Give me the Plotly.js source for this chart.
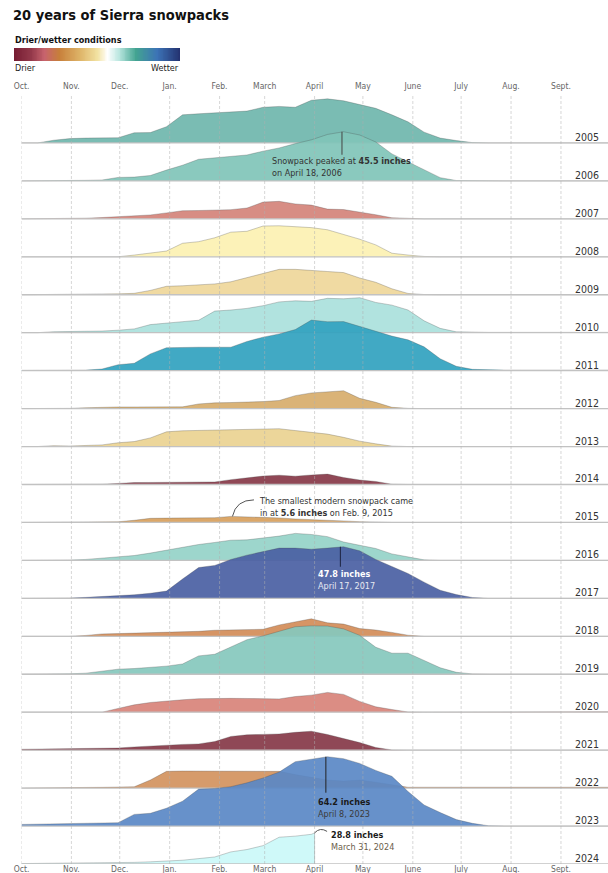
<!DOCTYPE html>
<html><head><meta charset="utf-8">
<script src="https://cdn.plot.ly/plotly-3.0.1.min.js"></script>
<style>html,body{margin:0;padding:0;background:#fff}#chart{width:608px;height:873px}</style>
</head><body><div id="chart"></div>
<script>
// ---------- DATA ----------
const years = [2005,2006,2007,2008,2009,2010,2011,2012,2013,2014,2015,2016,2017,2018,2019,2020,2021,2022,2023,2024];
// days since Oct. 1 (water year)
const days = [0,10,20,30,40,50,60,70,80,90,100,110,120,130,140,150,160,170,180,190,200,210,220,230,240,250,260,270,280,290,300,310,320,330,340,350,360,365];
// snow water equivalent, inches
const snow2005 = [0,0,2.5,4,4.5,4.7,4.8,9.4,9.6,15, 26,27,27.6,28.3,29.5,33,33.8,33,39.5,40.8, 39,35.5,32,26,19.5,10,4.5,2.2,0.3,0, 0,0,0,0,0,0,0,0];
const snow2006 = [0,0,0.3,0.5,0.5,0.8,3.2,3.5,5,10, 14.5,20,21.3,22.5,24,27.5,30.5,34.5,38,43, 45.5,42.5,36,25,17.5,10,3,0.3,0,0, 0,0,0,0,0,0,0,0];
const snow2007 = [0,0,0,0.2,0.6,1.2,1.8,3,3.6,5.5, 7.5,7.7,7.9,8.5,10,15.5,16.2,13.8,12.7,9, 8.6,6.5,3.8,1,0.2,0,0,0,0,0, 0,0,0,0,0,0,0,0];
const snow2008 = [0,0,0,0,0,0,0,1.6,3.5,5.3, 12.5,14,17.6,22.8,23.6,28.5,28.7,28,27,25, 21,16.3,11,3.3,1.6,0.3,0,0,0,0, 0,0,0,0,0,0,0,0];
const snow2009 = [0,0,0,0.4,0.6,0.7,0.8,1.3,4,7.8, 8.3,9,10,12,16,20,23.5,23.5,22.2,21.5, 20.5,15.5,11.5,5.5,1.2,0.2,0,0,0,0, 0,0,0,0,0,0,0,0];
const snow2010 = [0,0,0.9,1,1.2,1.5,2.3,3.5,7.5,9.2, 10.2,11.5,20,21,22.5,25,28.5,29.5,29,31.8, 31.4,32.4,28,25.5,21,11,4,0.8,0.3,0.3, 0.3,0.3,0.3,0.3,0.3,0.3,0.3,0.3];
const snow2011 = [0.3,0.3,0.3,0.4,0.5,1.5,5.5,6.8,15.5,21.2, 21.7,21.7,21.7,21.7,27,31,34,38,46.8,45.3, 45.4,41,37,32,28.5,22,11,4,1.2,0.5, 0.5,0.5,0.5,0.5,0.5,0.5,0.5,0.5];
const snow2012 = [0,0,0,0.2,0.8,1.4,1.5,1.5,1.5,1.5, 1.6,4.3,5.3,5.6,5.9,6.5,7.5,12,14.5,15.8, 16.5,9.5,5.8,1.2,0.2,0,0,0,0,0, 0,0,0,0,0,0,0,0];
const snow2013 = [0,0,0.8,0.5,1,1.5,3.5,4.6,8,13.6, 14.6,15,15.3,15.7,15.9,16.2,16.5,14.8,13.5,11.5, 8.5,5,2.5,0.4,0,0,0,0,0,0, 0,0,0,0,0,0,0,0];
const snow2014 = [0,0,0,0,0,0.3,1,1.8,1.9,2, 2.1,2.2,2.4,4.5,6,7.8,8.6,7.7,8.8,9.6, 6.5,4.2,2.8,0.3,0,0,0,0,0,0, 0,0,0,0,0,0,0,0];
const snow2015 = [0,0,0,0,0,0,0.6,2,3.8,4, 4.1,4.3,4.4,5.6,5.3,4.7,4.2,3.2,2.4,1.8, 1.4,0.7,0.1,0,0,0,0,0,0,0, 0,0,0,0,0,0,0,0];
const snow2016 = [0,0,0,0.3,0.9,1.9,3,4.5,6.8,9.5, 12.5,14.7,16.6,18.7,19,20.5,22.5,25,24,22, 17,14,11,6,3.5,0.5,0,0,0,0, 0,0,0,0,0,0,0,0];
const snow2017 = [0,0,0,0.3,0.9,1.6,2.3,3.3,4.7,6.7, 17.9,28.5,30.5,36,40,43.5,46.5,46.5,45.5,46.5, 47.8,44,36,29.5,23,15,7.5,3.5,0.8,0, 0,0,0,0,0,0,0,0];
const snow2018 = [0,0,0,0,0.8,2.2,2.5,2.9,3.2,3.6, 4,4.6,5.6,5.8,6,6.5,10.5,13,16.2,12.5, 11.3,7.2,5.8,3.6,1,0,0,0,0,0, 0,0,0,0,0,0,0,0];
const snow2019 = [0,0,0,0.4,1,2.5,4.7,5.3,6.5,7.5, 9.5,17,18.5,25,32,35.5,40,44,44.8,44.6, 42,36,25,19.5,19.5,13,6,1.8,0.3,0, 0,0,0,0,0,0,0,0];
const snow2020 = [0,0,0,0,0,0,3.5,6.8,9,10.5, 11.5,12.5,13,12.8,12.7,12.5,12.3,14.5,15.8,18.3, 16.5,10,5,2.5,0.2,0,0,0,0,0, 0.3,0.5,0.5,0.5,0.5,0.5,0.5,0.5];
const snow2021 = [0.8,0.9,1,1.2,1.4,1.7,2,3,3.9,4.8, 5.3,5.8,8,12.7,14.2,14.6,15,16.5,17.5,14.5, 11,7,2.5,0.2,0,0,0,0,0,0, 0,0,0,0,0,0,0,0];
const snow2022 = [0,0,0.5,0.6,0.6,0.7,0.9,1.2,7.5,15.5, 15.8,15.8,15.7,15.6,15.5,15.3,15.5,12.5,10,7.5, 6.5,7.5,5.5,3,0.8,0.8,0.8,0.8,0.8,0.8, 0.8,0.8,0.8,0.8,0.8,0.8,0.8,0.8];
const snow2023 = [1.5,1.7,1.9,2.1,2.4,2.7,3.1,10.8,11.8,16.5, 23,34.2,34.8,36.5,40,44.5,50,59.6,62,64.2, 62.4,58,51.5,46,32,19.5,12.5,6,2.5,0.3, 0,0,0,0,0,0,0,0];
// 2024 season only through March 31
const days2024 = [0,10,20,30,40,50,60,70,80,90,100,110,120,130,140,150,160,170,180,182,182];
const snow2024 = [0.4,0.5,0.6,0.7,0.8,0.9,1.2,1.5,2,2.5, 3.5,5,6.5,11.2,13.4,17,24.8,25.8,27.5,28.8,0];

const monthDays = [0,31,61,92,123,151,182,212,243,273,304,335];
const monthLabels = ['Oct.','Nov.','Dec.','Jan.','Feb.','March','April','May','June','July','Aug.','Sept.'];

// callouts
const noteYears  = [2006, 2015, 2017, 2023, 2024];
const noteDays   = [199, 131, 198, 189, 182];
const noteValues = [45.5, 5.6, 47.8, 64.2, 28.8];

// ---------- STYLE ----------
const yearColors = ['#6fb6ac','#80c4b8','#d4837a','#fcf1b2','#efd79a','#aae1dc','#31a2bf','#d7ac6b','#ead291','#873848',
                    '#d8a05c','#95d3c8','#4a5fa3','#d38c58','#86c8bd','#d8837a','#853848','#d2925e','#5a88c5','#cbf9f8'];
const FONT = '"DejaVu Sans Condensed", "Liberation Sans Narrow", sans-serif';
const PX_PER_DAY = 1.6104, PX_PER_IN = 1.08, STEP = 35.14;
const seriesByYear = {2005:snow2005,2006:snow2006,2007:snow2007,2008:snow2008,2009:snow2009,2010:snow2010,2011:snow2011,
  2012:snow2012,2013:snow2013,2014:snow2014,2015:snow2015,2016:snow2016,2017:snow2017,2018:snow2018,2019:snow2019,
  2020:snow2020,2021:snow2021,2022:snow2022,2023:snow2023,2024:snow2024};
const daysByYear = y => (y === 2024 ? days2024 : days);
const off = y => (2024 - y) * STEP;
function rgba(hex, a){const n=parseInt(hex.slice(1),16);return `rgba(${n>>16&255},${n>>8&255},${n&255},${a})`;}

const traces = [];
years.forEach((yr, i) => {
  const d = daysByYear(yr), v = seriesByYear[yr], o = off(yr);
  traces.push({x:[d[0], d[d.length-1]], y:[o,o], mode:'lines', line:{width:0}, hoverinfo:'skip', showlegend:false});
  traces.push({x:d, y:v.map(s=>s+o), mode:'lines', fill:'tonexty', fillcolor:rgba(yearColors[i],0.92),
    line:{color:'rgba(70,70,70,0.35)', width:0.8}, hoverinfo:'skip', showlegend:false});
  traces.push({x:[0,365], y:[o,o], mode:'lines', line:{color:'#c2c2c2', width:1.3}, hoverinfo:'skip', showlegend:false});
});
// top axis carrier
traces.push({x:[0], y:[0], xaxis:'x2', yaxis:'y', mode:'markers', marker:{opacity:0}, hoverinfo:'skip', showlegend:false});
// legend gradient
const legendSteps = Array.from({length:101}, (_, k) => k);
traces.push({type:'heatmap', z:[legendSteps], x:legendSteps, xaxis:'x3', yaxis:'y3', zmin:0, zmax:100, zsmooth:'best', showscale:false, hoverinfo:'skip',
  colorscale:[[0,'#771d33'],[0.1,'#93384a'],[0.18,'#c7636d'],[0.27,'#c77f3a'],[0.4,'#dfb66a'],[0.5,'#f2e2a2'],[0.56,'#ffffff'],
              [0.63,'#b9e6df'],[0.73,'#43a491'],[0.86,'#3c73b6'],[1,'#23306e']]});

const H = 864, TOP = 94;
const xr = [0, (608-21.5)/PX_PER_DAY];
const axisX = {domain:[21.5/608,1], range:xr, tickvals:monthDays, ticktext:monthLabels, showgrid:false, zeroline:false, showline:false,
  ticks:'', tickfont:{family:FONT, size:8.5, color:'#666'}, fixedrange:true};

const shapes = monthDays.map(md => ({type:'line', xref:'x', yref:'paper', x0:md, x1:md, y0:0, y1:(H-TOP)/H,
  line:{color:'rgba(175,175,175,0.5)', width:1, dash:'3px,2px'}, layer:'above'}));

const dx = px => px / PX_PER_DAY, dy = px => px / PX_PER_IN;
const noteTop = noteYears.map((yr,k) => noteValues[k] + off(yr));
// vertical callout lines (2006, 2017, 2023)
[[0,23,'#444'],[2,20,'#1c2340'],[3,36,'#222']].forEach(([k,len,c]) => {
  shapes.push({type:'line', xref:'x', yref:'y', x0:noteDays[k], x1:noteDays[k], y0:noteTop[k], y1:noteTop[k]-dy(len), line:{color:c,width:1}});
});
// curved connectors (2015, 2024)
{
  const x0=noteDays[1], y0=noteTop[1];
  shapes.push({type:'path', xref:'x', yref:'y', path:`M ${x0},${y0} Q ${x0+dx(3.5)},${y0+dy(16.5)} ${x0+dx(21.5)},${y0+dy(16.5)}`, line:{color:'#555',width:1}});
  const x1=noteDays[4], y1=noteTop[4];
  shapes.push({type:'path', xref:'x', yref:'y', path:`M ${x1},${y1} Q ${x1+dx(5.5)},${y1+dy(6)} ${x1+dx(12.5)},${y1+dy(1.5)}`, line:{color:'#555',width:1}});
}

const annotations = years.map(yr => ({xref:'paper', yref:'y', x:601/608, y:off(yr), xanchor:'right', yanchor:'bottom', yshift:-2,
  text:String(yr), showarrow:false, font:{family:FONT, size:10.5, color:'#333'}}));

const noteText = [
  'Snowpack peaked at <b>45.5 inches</b><br>on April 18, 2006',
  'The smallest modern snowpack came<br>in at <b>5.6 inches</b> on Feb. 9, 2015',
  '<b>47.8 inches</b><br><span style="color:#e6e9f2">April 17, 2017</span>',
  '<b>64.2 inches</b><br><span style="color:#3a3a3a">April 8, 2023</span>',
  '<b>28.8 inches</b><br><span style="color:#6b5e4b">March 31, 2024</span>'
];
const noteShift = [[270,154],[257,494],[316,567],[316,795],[329,828]];
const noteColor = ['#333','#333','#fff','#1a1a1a','#1a1a1a'];
noteText.forEach((t,k) => {
  const px = 21.5 + noteDays[k]*PX_PER_DAY;
  const py = H - noteTop[k]*PX_PER_IN;
  annotations.push({xref:'x', yref:'y', x:noteDays[k], y:noteTop[k], xanchor:'left', yanchor:'top', align:'left',
    xshift:noteShift[k][0]-px, yshift:py-noteShift[k][1], text:t, showarrow:false, font:{family:FONT, size:9, color:noteColor[k]}});
});
// legend labels
annotations.push({xref:'paper', yref:'paper', x:13/608, y:(H-40)/H, xanchor:'left', yanchor:'middle', text:'<b>Drier/wetter conditions</b>', showarrow:false, font:{family:FONT, size:9, color:'#111'}});
annotations.push({xref:'paper', yref:'paper', x:13/608, y:(H-68)/H, xanchor:'left', yanchor:'middle', text:'Drier', showarrow:false, font:{family:FONT, size:9, color:'#222'}});
annotations.push({xref:'paper', yref:'paper', x:181/608, y:(H-68)/H, xanchor:'right', yanchor:'middle', text:'Wetter', showarrow:false, font:{family:FONT, size:9, color:'#222'}});

const layout = {
  width:608, height:873, margin:{l:0, r:0, t:0, b:873-H},
  paper_bgcolor:'#fff', plot_bgcolor:'rgba(0,0,0,0)', showlegend:false,
  font:{family:FONT, color:'#333'},
  title:{text:'<b>20 years of Sierra snowpacks</b>', xref:'container', yref:'container', x:13/608, xanchor:'left', y:1-15/873, yanchor:'middle',
    font:{family:FONT, size:14.5, color:'#111'}},
  xaxis:Object.assign({}, axisX, {side:'bottom', anchor:'y', ticklabelstandoff:-2}),
  xaxis2:Object.assign({}, axisX, {side:'top', anchor:'y', overlaying:'x', ticklabelstandoff:2}),
  yaxis:{domain:[0,(H-TOP)/H], range:[0,(H-TOP)/PX_PER_IN], visible:false, fixedrange:true},
  xaxis3:{domain:[14/608,180/608], range:[0,100], visible:false, anchor:'y3'},
  yaxis3:{domain:[(H-61)/H,(H-48)/H], range:[-0.5,0.5], visible:false, anchor:'x3'},
  shapes:shapes, annotations:annotations
};
Plotly.newPlot('chart', traces, layout, {displayModeBar:false, staticPlot:true});
</script></body></html>
